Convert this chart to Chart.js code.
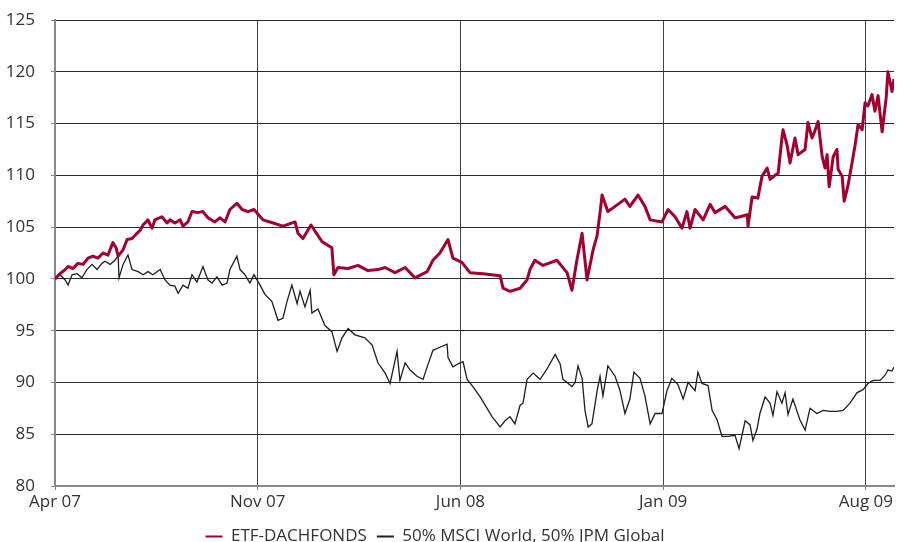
<!DOCTYPE html>
<html lang="de">
<head>
  <meta charset="UTF-8">
  <title>ETF-DACHFONDS vs. Benchmark</title>
  <script src="https://cdn.jsdelivr.net/npm/chart.js"></script>
  <style>
    html, body {
      margin: 0;
      padding: 0;
      background: #fff;
    }
    .chart-box {
      position: relative;
      width: 899px;
      height: 542px;
    }
  </style>
</head>
<body>
<div class="chart-box">
  <canvas id="perfChart"></canvas>
</div>

<script>
  // x = months since April 2007
  const tickMonths = [0, 7, 14, 21, 28];
  const tickLabels = ['Apr 07', 'Nov 07', 'Jun 08', 'Jan 09', 'Aug 09'];
  const yTicks = [80, 85, 90, 95, 100, 105, 110, 115, 120, 125];

  const etfMonths = [
    0.00, 0.17, 0.35, 0.45, 0.62, 0.79, 0.97, 1.14, 1.31, 1.48, 1.66, 1.83, 2.00, 2.11, 2.18, 2.35,
    2.49, 2.66, 2.83, 2.94, 3.04, 3.21, 3.35, 3.45, 3.69, 3.87, 3.97, 4.14, 4.32, 4.42, 4.59, 4.73,
    4.94, 5.11, 5.28, 5.52, 5.70, 5.87, 6.04, 6.28, 6.46, 6.66, 6.87,
    7.18, 7.53, 7.87, 8.29, 8.39, 8.56, 8.84, 8.98,
    9.22, 9.56, 9.63, 9.77, 10.12, 10.46, 10.81, 11.15, 11.40, 11.74, 12.09, 12.43, 12.85, 13.05,
    13.29, 13.57, 13.74, 14.05, 14.33, 14.78, 15.37, 15.47, 15.71, 16.06, 16.30, 16.40, 16.57, 16.85,
    17.33, 17.68, 17.85, 18.02, 18.20, 18.37, 18.58, 18.72, 18.82, 18.89, 19.09, 19.34, 19.68, 19.85,
    20.13, 20.37, 20.55, 20.96, 21.17, 21.41, 21.65, 21.82, 21.93, 22.10, 22.38, 22.62, 22.79, 23.14,
    23.48, 23.65, 23.90, 23.93, 24.07, 24.27, 24.41, 24.59, 24.69, 24.86, 24.97, 25.10, 25.14, 25.28,
    25.38, 25.55, 25.66, 25.90, 26.00, 26.14, 26.24, 26.35, 26.49, 26.59, 26.66, 26.73, 26.87, 27.00,
    27.04, 27.18, 27.25, 27.38, 27.52, 27.62, 27.73, 27.87, 27.97, 28.07, 28.21, 28.31, 28.42, 28.56,
    28.70, 28.76, 28.90, 28.97
  ];
  const etfValues = [
    100.0, 100.5, 100.9, 101.2, 101.0, 101.5, 101.4, 102.0, 102.2, 102.0, 102.5, 102.3, 103.5, 103.0, 102.2, 102.8,
    103.8, 103.9, 104.4, 104.7, 105.2, 105.7, 104.9, 105.7, 106.0, 105.4, 105.7, 105.4, 105.7, 105.1, 105.5, 106.5,
    106.4, 106.5, 105.9, 105.5, 105.9, 105.5, 106.7, 107.3, 106.7, 106.5, 106.7,
    105.7, 105.4, 105.1, 105.5, 104.4, 103.9, 105.2, 104.6,
    103.6, 103.0, 100.4, 101.1, 101.0, 101.3, 100.8, 100.9, 101.1, 100.6, 101.1, 100.1, 100.7, 101.8,
    102.5, 103.8, 102.0, 101.6, 100.6, 100.5, 100.3, 99.1, 98.8, 99.1, 99.9, 100.9, 101.8, 101.3,
    101.8, 100.6, 98.9, 101.8, 104.4, 99.9, 102.8, 104.2, 106.4, 108.1, 106.5, 107.0, 107.7, 107.0,
    108.1, 107.0, 105.7, 105.5, 106.7, 106.0, 104.9, 106.5, 104.9, 106.7, 105.7, 107.2, 106.4, 107.0,
    105.9, 106.0, 106.2, 105.1, 107.9, 107.8, 109.9, 110.7, 109.6, 110.0, 110.2, 113.6, 114.4, 112.9,
    111.2, 113.6, 112.0, 112.5, 115.1, 113.6, 114.3, 115.2, 111.8, 110.7, 112.0, 108.9, 111.8, 112.5,
    110.6, 109.9, 107.5, 109.0, 111.2, 112.8, 114.9, 114.4, 117.0, 116.7, 117.8, 116.2, 117.7, 114.2,
    117.5, 120.0, 118.1, 119.3
  ];

  const mixMonths = [
    0.00, 0.17, 0.35, 0.45, 0.59, 0.76, 0.93, 1.10, 1.28, 1.45, 1.62, 1.73, 1.90, 2.07, 2.18, 2.21,
    2.35, 2.52, 2.66, 2.87, 3.04, 3.21, 3.38, 3.63, 3.80, 3.97, 4.14, 4.25, 4.42, 4.59, 4.73, 4.90,
    5.11, 5.28, 5.42, 5.59, 5.77, 5.94, 6.04, 6.28, 6.39, 6.56, 6.73, 6.87,
    7.08, 7.25, 7.49, 7.70, 7.87, 8.01, 8.18, 8.36, 8.46, 8.63, 8.81, 8.87,
    9.08, 9.32, 9.56, 9.74, 9.91, 10.12, 10.36, 10.70, 10.95, 11.15, 11.40, 11.57, 11.81, 11.91,
    12.09, 12.26, 12.50, 12.71, 12.85, 13.05, 13.29, 13.54, 13.57, 13.74, 13.92, 14.09, 14.23, 14.43,
    14.68, 14.92, 15.09, 15.37, 15.54, 15.71, 15.88, 16.06, 16.16, 16.30, 16.51, 16.75, 16.99, 17.27,
    17.44, 17.54, 17.68, 17.85, 17.96, 18.06, 18.20, 18.30, 18.41, 18.54, 18.72, 18.82, 18.92, 19.09,
    19.34, 19.51, 19.68, 19.85, 19.99, 20.20, 20.37, 20.55, 20.72, 20.96, 21.13, 21.30, 21.51, 21.69,
    21.86, 22.10, 22.20, 22.34, 22.55, 22.69, 22.86, 23.03, 23.24, 23.48, 23.62, 23.83, 24.00, 24.10,
    24.24, 24.34, 24.52, 24.69, 24.79, 24.93, 25.10, 25.21, 25.31, 25.48, 25.72, 25.90, 26.07, 26.31,
    26.52, 26.76, 27.00, 27.21, 27.45, 27.69, 27.90, 28.07, 28.25, 28.49, 28.66, 28.76, 28.90, 28.97
  ];
  const mixValues = [
    100.0, 100.4, 99.9, 99.4, 100.4, 100.5, 100.1, 100.9, 101.4, 100.9, 101.5, 101.7, 101.4, 101.8, 102.2, 100.1,
    101.4, 102.3, 100.9, 100.7, 100.4, 100.7, 100.4, 100.9, 99.9, 99.4, 99.3, 98.6, 99.4, 99.1, 100.4, 99.7,
    101.2, 99.9, 99.6, 100.2, 99.4, 99.6, 100.9, 102.2, 100.9, 100.4, 99.6, 100.4,
    99.4, 98.5, 97.8, 96.0, 96.2, 97.8, 99.4, 97.6, 98.8, 97.3, 98.9, 96.7,
    97.1, 95.5, 94.9, 93.0, 94.3, 95.2, 94.6, 94.3, 93.6, 91.9, 90.9, 89.9, 93.0, 90.2,
    91.9, 91.2, 90.6, 90.3, 91.5, 93.1, 93.4, 93.7, 92.4, 91.5, 91.8, 92.0, 90.3, 89.6,
    88.6, 87.5, 86.7, 85.7, 86.3, 86.7, 86.0, 87.8, 88.0, 90.3, 90.9, 90.3, 91.3, 92.7,
    91.8, 90.3, 90.0, 89.6, 90.0, 91.6, 90.4, 87.3, 85.7, 86.0, 89.2, 90.6, 88.7, 91.6,
    90.6, 89.2, 87.0, 88.4, 91.0, 90.4, 88.7, 86.0, 87.0, 87.0, 89.2, 90.4, 89.8, 88.4,
    90.0, 89.2, 91.0, 89.9, 89.7, 87.3, 86.4, 84.8, 84.8, 84.9, 83.6, 86.3, 85.9, 84.4,
    85.5, 87.0, 88.6, 88.0, 86.8, 89.1, 88.0, 89.0, 86.9, 88.4, 86.4, 85.4, 87.5, 87.0,
    87.3, 87.2, 87.2, 87.3, 88.0, 89.0, 89.3, 89.9, 90.2, 90.2, 90.7, 91.2, 91.1, 91.5
  ];

  const toPoints = (xs, ys) => xs.map((x, i) => ({ x: x, y: ys[i] }));
  const fontFamily = '"Open Sans", "Noto Sans", sans-serif';

  // the legend sits a bit left of centre in the original
  const legendShift = {
    id: 'legendShift',
    afterLayout: chart => {
      if (chart.legend) chart.legend.left -= 30;
    }
  };

  new Chart(document.getElementById('perfChart'), {
    type: 'line',
    data: {
      datasets: [
        {
          label: 'ETF-DACHFONDS',
          data: toPoints(etfMonths, etfValues),
          borderColor: '#a3002f',
          backgroundColor: '#a3002f',
          borderWidth: 3,
          pointRadius: 0,
          tension: 0,
          borderJoinStyle: 'round'
        },
        {
          label: '50% MSCI World, 50% JPM Global',
          data: toPoints(mixMonths, mixValues),
          borderColor: '#1e1e1e',
          backgroundColor: '#1e1e1e',
          borderWidth: 1.3,
          pointRadius: 0,
          tension: 0
        }
      ]
    },
    plugins: [legendShift],
    options: {
      responsive: true,
      maintainAspectRatio: false,
      animation: false,
      layout: {
        padding: { left: 6, right: 5, top: 20, bottom: -13 }
      },
      scales: {
        x: {
          type: 'linear',
          min: 0,
          max: 28.97,
          afterBuildTicks: scale => {
            scale.ticks = tickMonths.map(v => ({ value: v }));
          },
          afterFit: scale => {
            scale.height = 32;
          },
          ticks: {
            autoSkip: false,
            maxRotation: 0,
            padding: 2,
            color: '#333',
            font: { family: fontFamily, size: 17 },
            callback: value => tickLabels[tickMonths.indexOf(value)] || ''
          },
          grid: {
            color: '#444',
            lineWidth: 1,
            tickLength: 4,
            tickColor: '#777'
          },
          border: { color: '#888', width: 2 }
        },
        y: {
          min: 80,
          max: 125,
          afterBuildTicks: scale => {
            scale.ticks = yTicks.map(v => ({ value: v }));
          },
          afterFit: scale => {
            scale.width = 49;
            scale.paddingTop = 0;
            scale.paddingBottom = 0;
          },
          ticks: {
            padding: 16,
            color: '#333',
            font: { family: fontFamily, size: 17 }
          },
          grid: {
            color: '#2a2a2a',
            lineWidth: 1,
            tickLength: 4,
            tickColor: '#888'
          },
          border: { color: '#888', width: 2 }
        }
      },
      plugins: {
        tooltip: { enabled: false },
        legend: {
          position: 'bottom',
          labels: {
            color: '#333',
            font: { family: fontFamily, size: 17 },
            usePointStyle: true,
            pointStyle: 'line',
            pointStyleWidth: 17,
            boxHeight: 2,
            padding: 10,
            generateLabels: chart => {
              const items = Chart.defaults.plugins.legend.labels.generateLabels(chart);
              items.forEach(item => { item.lineWidth = 2; });
              return items;
            }
          }
        }
      }
    }
  });
</script>
</body>
</html>
